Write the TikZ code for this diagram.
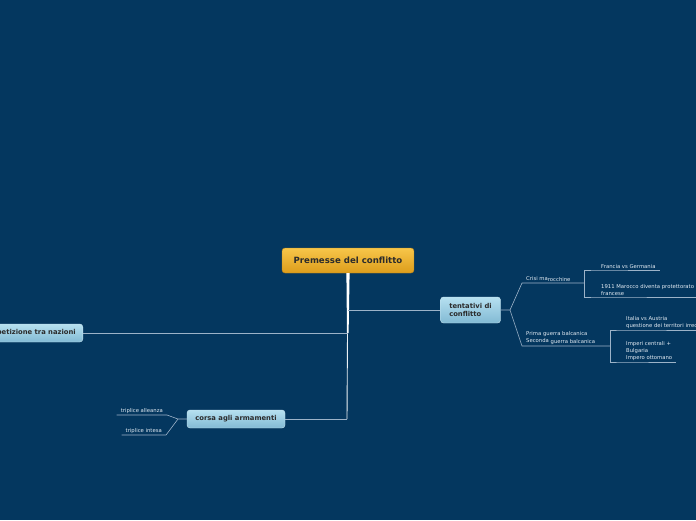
\documentclass[tikz,border=0pt]{standalone}
\usepackage{fontspec}
\setmainfont{DejaVu Sans}
\definecolor{bgnavy}{HTML}{04375F}
\definecolor{branchgray}{HTML}{9DB3C8}
\definecolor{leaftext}{HTML}{E4ECF4}
\definecolor{darktext}{HTML}{2B2B2B}
\definecolor{rootTop}{HTML}{F7C64A}
\definecolor{rootBottom}{HTML}{DD9D1B}
\definecolor{rootEdge}{HTML}{B9821A}
\definecolor{topicTop}{HTML}{B6E0F0}
\definecolor{topicBottom}{HTML}{82BAD4}
\definecolor{topicEdge}{HTML}{C8E6F2}
\begin{document}
\begin{tikzpicture}[x=1pt, y=-1pt,
          every node/.style={align=left},
          root/.style={draw=rootEdge, line width=0.4pt, rounded corners=3pt,
            top color=rootTop, bottom color=rootBottom,
            minimum width=132pt, minimum height=25pt, text=darktext,
            font=\fontsize{8.6}{10}\selectfont\bfseries},
          topic/.style={draw=topicEdge, line width=0.4pt, rounded corners=3pt,
            top color=topicTop, bottom color=topicBottom,
            minimum height=18pt, inner xsep=7pt, text=darktext,
            font=\fontsize{6.8}{8}\selectfont\bfseries},
          leaf/.style={anchor=south west, inner xsep=4pt, inner ysep=1.2pt, text=leaftext,
            font=\fontsize{5.3}{6.8}\selectfont},
          branch/.style={draw=branchgray, line width=0.6pt}
        ]

        % Background
        \fill[bgnavy] (0,0) rectangle (696,520);
        \useasboundingbox (0,0) rectangle (696,520);

        % Root
        \node[root] (root) at (348,260.5) {Premesse del conflitto};

        % Trunk
        \coordinate (tJ1) at (348,310);
        \coordinate (tJ2) at (347.5,333);
        \coordinate (tJ3) at (347,419);
        \fill[white] ([xshift=-1.6pt]root.south) -- ([xshift=1.6pt]root.south)
          -- (348.6,333) -- (347,333) -- cycle;
        \draw[white!80!branchgray, line width=0.9pt] (tJ2) -- (tJ3);

        % Main topics
        \node[topic, minimum width=60pt, minimum height=26pt] (tent) at (470.5,310) {tentativi di\\conflitto};
        \node[topic, anchor=east] (comp) at (83,333) {competizione tra nazioni};
        \node[topic, minimum width=98pt] (corsa) at (236,419) {corsa agli armamenti};

        \draw[branch] (tJ1) -- (tent.west);
        \draw[branch] (tJ2) -- (comp.east);
        \draw[branch] (tJ3) -- (corsa.east);

        % Junctions
        \coordinate (jTent) at (510,310);
        \coordinate (jCrisi) at (584,283);
        \coordinate (jBalc) at (610,346);
        \coordinate (jCorsa) at (178,419);

        % Right side
        \node[leaf] (crisi) at (522,283) {Crisi ma\raisebox{-0.8pt}{rocchine}};
        \node[leaf] (balc) at (522,346) {Prima guerra balcanica\\Seconda \raisebox{-0.8pt}{guerra balcanica}};
        \node[leaf] (franc) at (597,270) {Francia vs Germania};
        \node[leaf] (maroc) at (597,297) {1911 Marocco diventa protettorato\\francese};
        \node[leaf] (ital) at (622,330) {Italia vs Austria\\questione dei territori irredenti};
        \node[leaf] (imper) at (622,362) {Imperi centrali +\\Bulgaria\\Impero ottomano};

        \draw[branch] (tent.east) -- (jTent) -- (crisi.south west) -- (jCrisi);
        \draw[branch] (jTent) -- (balc.south west) -- (jBalc);
        \draw[branch] (jCrisi) |- (franc.south west) -- (franc.south east);
        \draw[branch] (jCrisi) |- (maroc.south west) -- (maroc.south east);
        \draw[branch] (jBalc) |- (ital.south west) -- (ital.south east);
        \draw[branch] (jBalc) |- (imper.south west) -- (imper.south east);

        % Left side
        \node[leaf, anchor=south east] (alle) at (167,415) {triplice alleanza};
        \node[leaf, anchor=south east] (intesa) at (166,435) {triplice intesa};

        \draw[branch] (corsa.west) -- (jCorsa) -- (alle.south east) -- (alle.south west);
        \draw[branch] (jCorsa) -- (intesa.south east) -- (intesa.south west);

      \end{tikzpicture}
\end{document}
